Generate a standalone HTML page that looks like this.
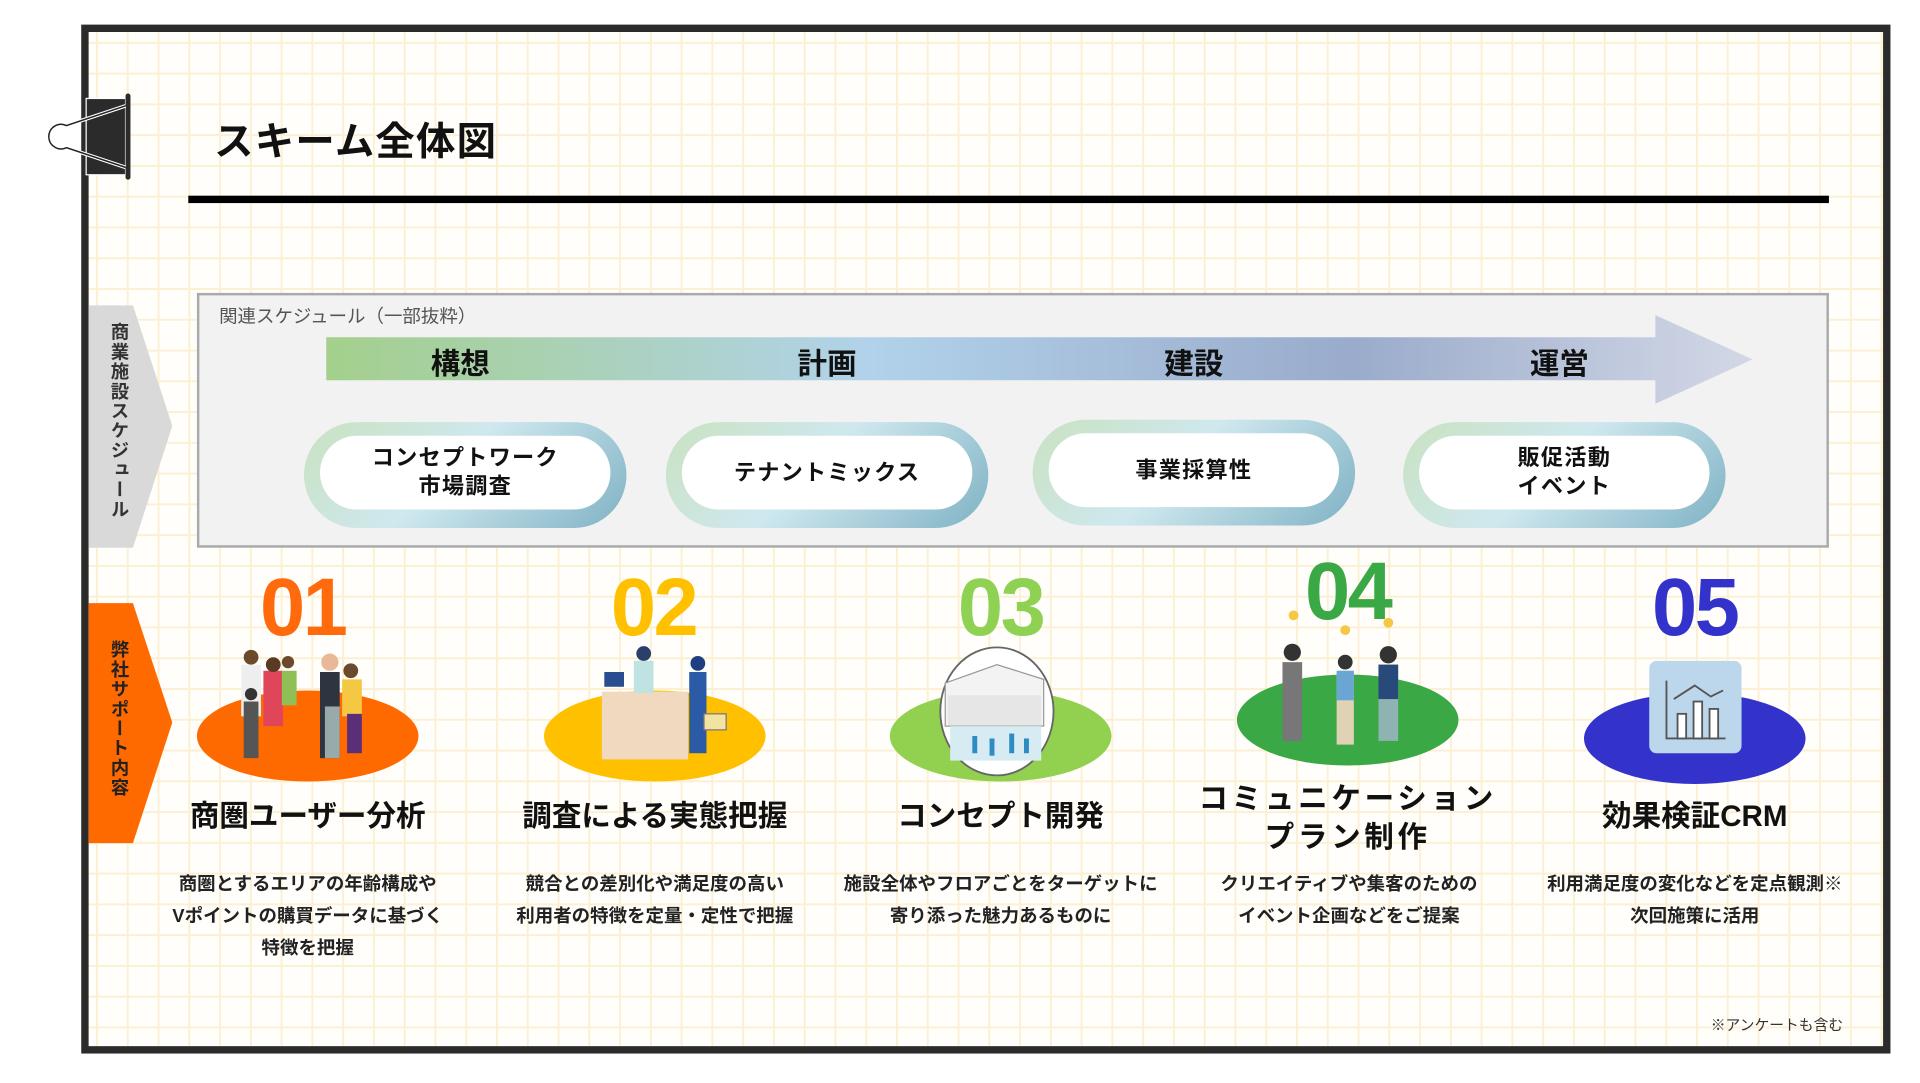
<!DOCTYPE html>
<html><head><meta charset="utf-8">
<style>
html,body{margin:0;padding:0;background:#fff;width:1920px;height:1080px;overflow:hidden}
#w{position:absolute;left:0;top:0;width:1560px;height:880px;transform:scale(1.230769);transform-origin:0 0;font-family:"Liberation Sans","Noto Sans CJK JP",sans-serif;color:#111}
.a{position:absolute}
.frame{left:66px;top:20px;width:1458px;height:824px;border:6px solid #2b2b2b;
background-color:#fffefa;
background-image:linear-gradient(#fbf0d4 1.5px,transparent 1.5px),linear-gradient(90deg,#fbf0d4 1.5px,transparent 1.5px);
background-size:25px 25px;background-position:6px 8px}
.c{text-align:center;transform:translateX(-50%);white-space:nowrap}
.ph{font-size:24px;font-weight:bold;top:276px}
.pill{width:262px;height:86px;border-radius:43px;background:linear-gradient(135deg,#c8e2c0 0%,#cfe8ef 45%,#7fb2c4 100%);top:343px}
.pill div{position:absolute;left:13px;top:11px;right:13px;bottom:15px;border-radius:32px;background:#fff;display:flex;align-items:center;justify-content:center;text-align:center;font-size:18px;font-weight:bold;line-height:23px;letter-spacing:1px}
.num{font-size:66px;font-weight:bold;top:455px;letter-spacing:-2px}
.ttl{font-size:24px;font-weight:bold;top:648px;line-height:31px}
.dsc{font-size:15px;font-weight:bold;top:706px;line-height:26px;color:#222}
.vt{writing-mode:vertical-rl;font-size:15px;font-weight:bold;letter-spacing:1px;color:#333}
</style></head><body><div id="w">
<div class="a frame"></div>
<!-- clip -->
<svg class="a" style="left:30px;top:72px" width="80" height="78" viewBox="0 0 80 78">
<rect x="40" y="8" width="32" height="62" fill="#2b2b2b" stroke="#fff" stroke-width="1"/>
<rect x="72" y="4" width="4" height="70" rx="2" fill="#2b2b2b"/>
<path d="M72 14 L24 30 A10 10 0 1 0 24 48 L72 64" fill="none" stroke="#fff" stroke-width="3"/>
<path d="M72 14 L24 30 A10 10 0 1 0 24 48 L72 64" fill="none" stroke="#222" stroke-width="1.2"/>
</svg>
<div class="a" style="left:174px;top:90px;font-size:32px;font-weight:bold;letter-spacing:1px">スキーム全体図</div>
<div class="a" style="left:153px;top:159px;width:1333px;height:6px;background:#000"></div>

<!-- left chevrons -->
<svg class="a" style="left:72px;top:248px" width="70" height="440">
<polygon points="0,0 36,0 68,98 36,197 0,197" fill="#d9d9d9"/>
<polygon points="0,242 36,242 68,339 36,437 0,437" fill="#ff6a00"/>
</svg>
<div class="a vt" style="left:86px;top:262px">商業施設スケジュール</div>
<div class="a vt" style="left:86px;top:520px;color:#222">弊社サポート内容</div>

<!-- schedule box -->
<div class="a" style="left:160px;top:238px;width:1322px;height:203px;background:#f2f2f2;border:2px solid #aaa"></div>
<div class="a" style="left:178px;top:246px;font-size:15px;color:#555">関連スケジュール（一部抜粋）</div>
<svg class="a" style="left:265px;top:255px" width="1162" height="74">
<defs><linearGradient id="g" x1="0" x2="1" y1="0" y2="0">
<stop offset="0" stop-color="#a4d08c"/><stop offset="0.38" stop-color="#b1d2ea"/><stop offset="0.72" stop-color="#9aabcb"/><stop offset="1" stop-color="#d3d8e6"/></linearGradient></defs>
<polygon points="0,19 1080,19 1080,1 1159,37 1080,73 1080,54 0,54" fill="url(#g)"/>
</svg>
<div class="a c ph" style="left:374px">構想</div>
<div class="a c ph" style="left:672px">計画</div>
<div class="a c ph" style="left:970px">建設</div>
<div class="a c ph" style="left:1267px">運営</div>
<div class="a pill" style="left:247px"><div>コンセプトワーク<br>市場調査</div></div>
<div class="a pill" style="left:541px"><div>テナントミックス</div></div>
<div class="a pill" style="left:839px;top:341px"><div>事業採算性</div></div>
<div class="a pill" style="left:1140px"><div>販促活動<br>イベント</div></div>

<!-- numbers -->
<div class="a c num" style="left:246px;color:#ff6a0d">01</div>
<div class="a c num" style="left:531px;color:#ffc000">02</div>
<div class="a c num" style="left:813px;color:#8fd152">03</div>
<div class="a c num" style="left:1095px;top:442px;color:#3aa845">04</div>
<div class="a c num" style="left:1377px;color:#3333cc">05</div>

<!-- illustrations -->
<svg class="a" style="left:0;top:0" width="1560" height="880">
<ellipse cx="250" cy="598" rx="90" ry="37" fill="#ff6a00"/>
<ellipse cx="532" cy="598" rx="90" ry="37" fill="#ffc000"/>
<ellipse cx="813" cy="598" rx="90" ry="37" fill="#92d050"/>
<ellipse cx="1095" cy="585" rx="90" ry="37" fill="#3aa845"/>
<ellipse cx="1377" cy="600" rx="90" ry="37" fill="#3333cc"/>
<!-- 01 family -->
<g>
<rect x="196" y="540" width="16" height="42" fill="#eee"/><circle cx="204" cy="534" r="6" fill="#6b4a2b"/>
<rect x="214" y="545" width="16" height="45" fill="#e0455a"/><circle cx="222" cy="540" r="6" fill="#5a3a22"/>
<rect x="229" y="545" width="12" height="28" fill="#8fbf55"/><circle cx="234" cy="538" r="5" fill="#6b4a2b"/>
<rect x="198" y="570" width="12" height="46" fill="#555"/><circle cx="204" cy="564" r="5" fill="#333"/>
<rect x="260" y="546" width="16" height="70" fill="#2e3440"/><circle cx="268" cy="538" r="7" fill="#e8b996"/>
<rect x="278" y="552" width="16" height="30" fill="#f4c842"/><circle cx="285" cy="545" r="6" fill="#6b4a2b"/>
<rect x="264" y="574" width="12" height="42" fill="#9aa"/><rect x="282" y="580" width="12" height="32" fill="#5a2f7a"/>
</g>
<!-- 02 counter -->
<rect x="489" y="562" width="70" height="55" fill="#f0d9be"/>
<rect x="491" y="546" width="16" height="12" fill="#2a4d8f"/>
<rect x="515" y="537" width="16" height="26" fill="#bfe3e3"/><circle cx="523" cy="531" r="6" fill="#2a3f6a"/>
<rect x="560" y="546" width="14" height="66" fill="#2b5aa6"/><circle cx="567" cy="539" r="6" fill="#1f3f80"/>
<rect x="572" y="580" width="18" height="13" fill="#f3e3a0" stroke="#777" stroke-width="1"/>
<!-- 03 building -->
<ellipse cx="810" cy="578" rx="46" ry="52" fill="#fff" stroke="#666" stroke-width="1.5"/>
<polygon points="768,555 810,540 848,552 848,590 768,590" fill="#f3f3f3" stroke="#999" stroke-width="1"/>
<rect x="770" y="565" width="76" height="24" fill="#e6e6e6"/>
<rect x="772" y="590" width="74" height="28" fill="#d7ebf2"/>
<g fill="#2e8cc4"><rect x="790" y="598" width="4" height="14"/><rect x="804" y="600" width="4" height="14"/><rect x="820" y="596" width="4" height="16"/><rect x="832" y="600" width="4" height="12"/></g>
<!-- 04 people -->
<rect x="1042" y="538" width="16" height="64" fill="#777"/><circle cx="1050" cy="530" r="7" fill="#333"/>
<rect x="1086" y="545" width="14" height="60" fill="#e0d2b4"/><rect x="1086" y="545" width="14" height="24" fill="#6aa6d4"/><circle cx="1093" cy="538" r="6" fill="#333"/>
<rect x="1120" y="540" width="16" height="62" fill="#8fb2b2"/><rect x="1120" y="540" width="16" height="28" fill="#274a7a"/><circle cx="1128" cy="532" r="7" fill="#333"/>
<circle cx="1051" cy="500" r="4" fill="#f4c842"/><circle cx="1093" cy="512" r="4" fill="#f4c842"/><circle cx="1128" cy="506" r="4" fill="#f4c842"/>
<!-- 05 chart -->
<rect x="1340" y="537" width="75" height="75" rx="6" fill="#bcd7ec"/>
<g stroke="#555" stroke-width="1.5" fill="#fff"><path d="M1354 553 V600 H1402" fill="none"/>
<rect x="1363" y="580" width="7" height="20"/><rect x="1376" y="570" width="7" height="30"/><rect x="1389" y="576" width="7" height="24"/>
<path d="M1360 568 L1377 557 L1390 566 L1400 561" fill="none"/></g>
</svg>

<!-- titles -->
<div class="a c ttl" style="left:250px">商圏ユーザー分析</div>
<div class="a c ttl" style="left:532px">調査による実態把握</div>
<div class="a c ttl" style="left:813px">コンセプト開発</div>
<div class="a c ttl" style="left:1095px;top:634px;letter-spacing:3px">コミュニケーション<br>プラン制作</div>
<div class="a c ttl" style="left:1377px">効果検証CRM</div>

<div class="a c dsc" style="left:250px">商圏とするエリアの年齢構成や<br>Vポイントの購買データに基づく<br>特徴を把握</div>
<div class="a c dsc" style="left:532px">競合との差別化や満足度の高い<br>利用者の特徴を定量・定性で把握</div>
<div class="a c dsc" style="left:813px">施設全体やフロアごとをターゲットに<br>寄り添った魅力あるものに</div>
<div class="a c dsc" style="left:1096px">クリエイティブや集客のための<br>イベント企画などをご提案</div>
<div class="a c dsc" style="left:1377px">利用満足度の変化などを定点観測※<br>次回施策に活用</div>
<div class="a" style="left:1390px;top:824px;font-size:12px;color:#333">※アンケートも含む</div>
</div></body></html>
